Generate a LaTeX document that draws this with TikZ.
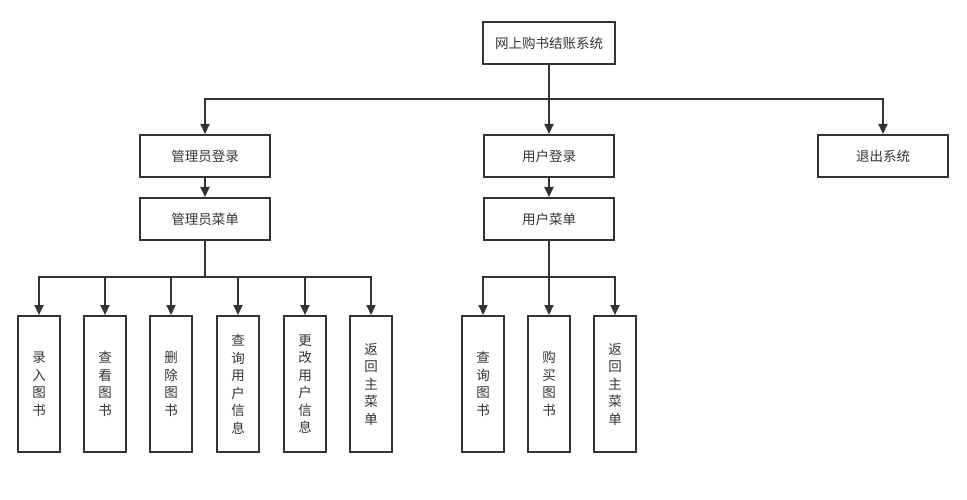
\documentclass[tikz,border=0pt]{standalone}
\usepackage{fontspec}
\setmainfont{Noto Sans CJK SC}
\usetikzlibrary{arrows.meta}
\definecolor{ln}{HTML}{333333}
\begin{document}
\begin{tikzpicture}[x=1pt,y=-1pt,
  box/.style={draw=ln, line width=2pt, rectangle, inner sep=0pt, text=ln,
    font=\fontsize{13.5}{17.5}\selectfont, minimum width=130pt, minimum height=42pt},
  leaf/.style={draw=ln, line width=2pt, rectangle, inner sep=0pt, text=ln, align=center,
    font=\fontsize{13.5}{17.5}\selectfont, minimum width=42pt, minimum height=136pt},
  conn/.style={draw=ln, line width=2pt},
  arr/.style={conn, -{Triangle[length=10pt,width=9pt]}}]
\useasboundingbox (0,0) rectangle (967,500);
\node[box, minimum width=132pt] (top) at (549,43) {网上购书结账系统};
\node[box] (al) at (205,156) {管理员登录};
\node[box] (ul) at (549,156) {用户登录};
\node[box] (ex) at (883,156) {退出系统};
\node[box] (am) at (205,219) {管理员菜单};
\node[box] (um) at (549,219) {用户菜单};
\node[leaf] (a1) at (39,384) {录\\入\\图\\书};
\node[leaf] (a2) at (105,384) {查\\看\\图\\书};
\node[leaf] (a3) at (171,384) {删\\除\\图\\书};
\node[leaf] (a4) at (238,384) {查\\询\\用\\户\\信\\息};
\node[leaf] (a5) at (305,384) {更\\改\\用\\户\\信\\息};
\node[leaf] (a6) at (371,384) {返\\回\\主\\菜\\单};
\node[leaf] (u1) at (483,384) {查\\询\\图\\书};
\node[leaf] (u2) at (549,384) {购\\买\\图\\书};
\node[leaf] (u3) at (615,384) {返\\回\\主\\菜\\单};
\coordinate (j1) at (549,99);
\coordinate (j2) at (205,277);
\coordinate (j3) at (549,277);
\draw[conn] (top.south) -- (j1);
\draw[arr] (j1) -| (al.north);
\draw[arr] (j1) -- (ul.north);
\draw[arr] (j1) -| (ex.north);
\draw[arr] (al.south) -- (am.north);
\draw[arr] (ul.south) -- (um.north);
\draw[conn] (am.south) -- (j2);
\foreach \n in {a1,a2,a3,a4,a5,a6} \draw[arr] (j2) -| (\n.north);
\draw[conn] (um.south) -- (j3);
\foreach \n in {u1,u2,u3} \draw[arr] (j3) -| (\n.north);
\end{tikzpicture}
\end{document}
